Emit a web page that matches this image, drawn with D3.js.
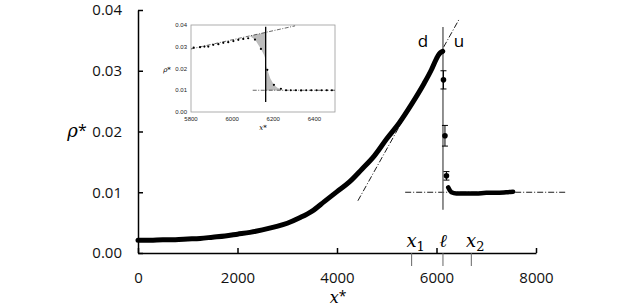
<!DOCTYPE html>
<html>
<head>
<meta charset="utf-8">
<script src="https://cdn.jsdelivr.net/npm/d3@7"></script>
<style>
  body { margin: 0; background: #fff; }
  svg { display: block; }
</style>
</head>
<body>
<div id="chart"></div>
<script>
// main density profile (upstream side)
const mainX = [0, 250, 500, 750, 1000, 1250, 1500, 1750, 2000, 2250, 2500, 2750, 3000, 3250,
  3500, 3750, 4000, 4250, 4500, 4750, 5000, 5250, 5500, 5750, 5900, 6000, 6050, 6100, 6125];
const mainY = [0.0021, 0.0021, 0.0022, 0.0022, 0.0023, 0.0024, 0.0026, 0.0028, 0.0031, 0.0034,
  0.0038, 0.0043, 0.0049, 0.0058, 0.0069, 0.0085, 0.0101, 0.0117, 0.0138, 0.0160, 0.0188,
  0.0214, 0.0245, 0.0279, 0.0302, 0.0320, 0.0327, 0.0331, 0.0332];

// points with error bars inside the jump
const errX = [6140, 6170, 6200];
const errY = [0.0285, 0.0193, 0.0127];
const errD = [0.0015, 0.0017, 0.0007];

// downstream side
const downX = [6235, 6270, 6300, 6400, 6600, 6800, 7000, 7200, 7400, 7540];
const downY = [0.0108, 0.0103, 0.0100, 0.0098, 0.0098, 0.0098, 0.0099, 0.0099, 0.0100, 0.0101];

// reference lines
const tangentX = [4420, 6450];
const tangentY = [0.0086, 0.0384];
const flatX = [5370, 8620];
const flatY = [0.0100, 0.0100];
const ellX = 6130;
const ellY = [0.0071, 0.0372];

const markX = [5500, 6130, 6700];
const markNames = ["x", "ℓ", "x"];
const markSubs = ["1", "", "2"];

const xTicks = [0, 2000, 4000, 6000, 8000];
const yTicks = [0, 0.01, 0.02, 0.03, 0.04];

// inset data
const insetUpX = [5813, 5844, 5865, 5884, 5908, 5933, 5957, 5981, 6006, 6030, 6054, 6078, 6111, 6140];
const insetUpY = [0.0296, 0.0298, 0.0301, 0.0301, 0.0309, 0.0312, 0.0318, 0.0321, 0.0326, 0.0332,
  0.0336, 0.0339, 0.0333, 0.0290];
const insetDownX = [6171, 6203, 6237, 6262, 6285, 6310, 6335, 6360, 6385, 6410, 6435, 6460, 6485];
const insetDownY = [0.0194, 0.0125, 0.0107, 0.0100, 0.0100, 0.0100, 0.0099, 0.0100, 0.0100,
  0.0100, 0.0100, 0.0100, 0.0100];
const insetTangentX = [5800, 6306];
const insetTangentY = [0.0290, 0.0396];
const insetFlatX = [6100, 6500];
const insetFlatY = [0.0100, 0.0100];
const insetEllX = 6163;
const insetEllY = [0.0046, 0.0392];
const shadeUpX = [6085, 6111, 6140, 6155, 6163];
const shadeUpY = [0.0350, 0.0333, 0.0290, 0.0262, 0.0240];
const shadeDownX = [6163, 6171, 6185, 6203, 6220, 6237, 6250];
const shadeDownY = [0.0215, 0.0194, 0.0155, 0.0125, 0.0112, 0.0105, 0.0100];
const insetXTicks = [5800, 6000, 6200, 6400];
const insetYTicks = [0, 0.01, 0.02, 0.03, 0.04];

const width = 640, height = 307;
const svg = d3.select("#chart").append("svg")
    .attr("width", width)
    .attr("height", height);

svg.append("rect").attr("width", width).attr("height", height).attr("fill", "#fff");

const x = d3.scaleLinear().domain([0, 8000]).range([138, 536]);
const y = d3.scaleLinear().domain([0, 0.04]).range([253, 10]);

const dashDot = "6,2,1,2";
const line = d3.line().x(d => x(d[0])).y(d => y(d[1]));

// axes
const yAxis = svg.append("g")
    .attr("transform", "translate(138,0)")
    .call(d3.axisLeft(y).tickValues(yTicks).tickFormat(d3.format(".2f"))
        .tickSizeInner(-5).tickSizeOuter(0).tickPadding(16));
const xAxis = svg.append("g")
    .attr("transform", "translate(0,253)")
    .call(d3.axisBottom(x).tickValues(xTicks).tickFormat(d3.format("d"))
        .tickSizeInner(-5).tickSizeOuter(0).tickPadding(19));
[xAxis, yAxis].forEach(a => {
    a.selectAll("path, line").attr("stroke", "#000").attr("stroke-width", 1.5);
    a.selectAll("text").attr("font-family", "Open Sans").attr("font-size", 15).attr("fill", "#111");
});

// marks below the axis
markX.forEach((m, i) => {
    svg.append("line")
        .attr("x1", x(m)).attr("x2", x(m))
        .attr("y1", 253).attr("y2", 266)
        .attr("stroke", "#666").attr("stroke-width", 1);
    const t = svg.append("text")
        .attr("x", x(m) + (markSubs[i] ? 4 : 0))
        .attr("y", 247)
        .attr("text-anchor", "middle")
        .attr("font-family", "DejaVu Serif")
        .attr("font-style", "italic")
        .attr("font-size", 18)
        .text(markNames[i]);
    if (markSubs[i]) {
        t.append("tspan").attr("font-style", "normal").attr("font-size", 13)
            .attr("dy", 4).text(markSubs[i]);
    }
});

// axis titles
svg.append("text")
    .attr("x", 77).attr("y", 137)
    .attr("text-anchor", "middle")
    .attr("font-family", "DejaVu Serif").attr("font-size", 18)
    .call(t => {
        t.append("tspan").attr("font-style", "italic").text("ρ");
        t.append("tspan").attr("font-family", "Open Sans").attr("font-size", 16).attr("dy", -1).text("*");
    });
svg.append("text")
    .attr("x", 338).attr("y", 303)
    .attr("text-anchor", "middle")
    .attr("font-family", "DejaVu Serif").attr("font-size", 16)
    .call(t => {
        t.append("tspan").attr("font-style", "italic").text("x");
        t.append("tspan").attr("font-family", "Open Sans").attr("font-size", 14).attr("dy", -2).text("*");
    });

// reference lines
svg.append("path")
    .attr("d", line(d3.zip(tangentX, tangentY)))
    .attr("fill", "none").attr("stroke", "#000").attr("stroke-width", 0.9)
    .attr("stroke-dasharray", dashDot);
svg.append("path")
    .attr("d", line(d3.zip(flatX, flatY)))
    .attr("fill", "none").attr("stroke", "#000").attr("stroke-width", 0.9)
    .attr("stroke-dasharray", dashDot);
svg.append("line")
    .attr("x1", x(ellX)).attr("x2", x(ellX))
    .attr("y1", y(ellY[0])).attr("y2", y(ellY[1]))
    .attr("stroke", "#555").attr("stroke-width", 1.3);

// profile
const thick = d3.line().x(d => x(d[0])).y(d => y(d[1])).curve(d3.curveMonotoneX);
svg.append("path")
    .attr("d", thick(d3.zip(mainX, mainY)))
    .attr("fill", "none").attr("stroke", "#000").attr("stroke-width", 5)
    .attr("stroke-linecap", "round");
svg.append("path")
    .attr("d", thick(d3.zip(downX, downY)))
    .attr("fill", "none").attr("stroke", "#000").attr("stroke-width", 4.5)
    .attr("stroke-linecap", "round");

// error bar points
const err = svg.append("g").selectAll("g")
    .data(d3.zip(errX, errY, errD))
    .enter().append("g");
err.append("line")
    .attr("x1", d => x(d[0])).attr("x2", d => x(d[0]))
    .attr("y1", d => y(d[1] - d[2])).attr("y2", d => y(d[1] + d[2]))
    .attr("stroke", "#000").attr("stroke-width", 1);
[-1, 1].forEach(s => {
    err.append("line")
        .attr("x1", d => x(d[0]) - 3).attr("x2", d => x(d[0]) + 3)
        .attr("y1", d => y(d[1] + s * d[2])).attr("y2", d => y(d[1] + s * d[2]))
        .attr("stroke", "#000").attr("stroke-width", 1);
});
err.append("circle")
    .attr("cx", d => x(d[0])).attr("cy", d => y(d[1]))
    .attr("r", 2.8).attr("fill", "#000");

// d / u labels
svg.append("text").attr("x", 423).attr("y", 47).attr("text-anchor", "middle")
    .attr("font-family", "Open Sans").attr("font-size", 17).text("d");
svg.append("text").attr("x", 459).attr("y", 47).attr("text-anchor", "middle")
    .attr("font-family", "Open Sans").attr("font-size", 17).text("u");

// ---- inset ----
const ix = d3.scaleLinear().domain([5800, 6500]).range([191, 335]);
const iy = d3.scaleLinear().domain([0, 0.04]).range([112, 25]);
const iline = d3.line().x(d => ix(d[0])).y(d => iy(d[1]));
const inset = svg.append("g");

inset.append("rect")
    .attr("x", ix(5800)).attr("y", iy(0.04))
    .attr("width", ix(6500) - ix(5800)).attr("height", iy(0) - iy(0.04))
    .attr("fill", "#fff").attr("stroke", "#999").attr("stroke-width", 0.8);

inset.selectAll(".ixt").data(insetXTicks).enter().append("text")
    .attr("x", d => ix(d)).attr("y", 121)
    .attr("text-anchor", "middle")
    .attr("font-family", "Liberation Sans").attr("font-size", 6).attr("fill", "#222")
    .text(d => d);
inset.selectAll(".iyt").data(insetYTicks).enter().append("text")
    .attr("x", 187).attr("y", d => iy(d) + 2)
    .attr("text-anchor", "end")
    .attr("font-family", "Liberation Sans").attr("font-size", 6).attr("fill", "#222")
    .text(d => d3.format(".2f")(d));
inset.append("text").attr("x", 167).attr("y", 72).attr("text-anchor", "middle")
    .attr("font-family", "DejaVu Serif").attr("font-size", 7).attr("font-style", "italic").text("ρ*");
inset.append("text").attr("x", 263).attr("y", 130).attr("text-anchor", "middle")
    .attr("font-family", "DejaVu Serif").attr("font-size", 7).attr("font-style", "italic").text("x*");

// shaded equal areas
const tanAt = v => insetTangentY[0] + (v - insetTangentX[0]) *
    (insetTangentY[1] - insetTangentY[0]) / (insetTangentX[1] - insetTangentX[0]);
inset.append("path")
    .attr("d", d3.area().x(d => ix(d[0])).y0(d => iy(d[1])).y1(d => iy(tanAt(d[0])))
        (d3.zip(shadeUpX, shadeUpY)))
    .attr("fill", "#bdbdbd");
inset.append("path")
    .attr("d", d3.area().x(d => ix(d[0])).y0(d => iy(d[1])).y1(iy(insetFlatY[0]))
        (d3.zip(shadeDownX, shadeDownY)))
    .attr("fill", "#bdbdbd");

inset.append("path")
    .attr("d", iline(d3.zip(insetTangentX, insetTangentY)))
    .attr("fill", "none").attr("stroke", "#000").attr("stroke-width", 0.6)
    .attr("stroke-dasharray", "4,1.5,1,1.5");
inset.append("path")
    .attr("d", iline(d3.zip(insetFlatX, insetFlatY)))
    .attr("fill", "none").attr("stroke", "#000").attr("stroke-width", 0.6)
    .attr("stroke-dasharray", "4,1.5,1,1.5");
inset.append("line")
    .attr("x1", ix(insetEllX)).attr("x2", ix(insetEllX))
    .attr("y1", iy(insetEllY[0])).attr("y2", iy(insetEllY[1]))
    .attr("stroke", "#000").attr("stroke-width", 1.3);

inset.selectAll(".idot")
    .data(d3.zip(insetUpX, insetUpY).concat(d3.zip(insetDownX, insetDownY)))
    .enter().append("circle")
    .attr("cx", d => ix(d[0])).attr("cy", d => iy(d[1]))
    .attr("r", 1.1).attr("fill", "#000");
</script>
</body>
</html>
